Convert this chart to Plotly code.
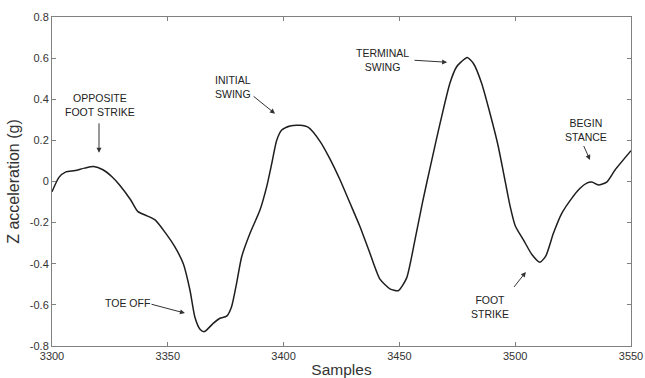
import plotly.graph_objects as go

# Data
samples = [3300, 3303, 3306, 3310, 3314, 3318, 3322, 3326, 3329, 3334, 3337, 3341,
           3344.5, 3349, 3353, 3356.7, 3359.6, 3361.7, 3364, 3365.8, 3369.6, 3372.5,
           3375.4, 3377.5, 3379.7, 3381.9, 3385.5, 3389.8, 3392.7, 3394.9, 3397, 3399.2,
           3402.8, 3407, 3410.7, 3415.8, 3420, 3424.4, 3428.7, 3433, 3437.3, 3441.6,
           3445.9, 3449.5, 3453.1, 3456.7, 3460, 3463.5, 3467.5, 3471.8, 3474.7, 3476.8,
           3479.3, 3481.9, 3485.5, 3489.1, 3492.5, 3495, 3497.8, 3500, 3503.6, 3507.2,
           3510.7, 3513.3, 3516.5, 3520.1, 3524.4, 3528, 3530.9, 3533.1, 3535.9, 3539.5,
           3543.1, 3550]
z_accel = [-0.05, 0.02, 0.047, 0.053, 0.065, 0.073, 0.057, 0.022, -0.015, -0.09, -0.145, -0.167,
           -0.187, -0.25, -0.317, -0.40, -0.53, -0.66, -0.72, -0.73, -0.69, -0.665,
           -0.655, -0.61, -0.495, -0.366, -0.252, -0.139, -0.025, 0.088, 0.20, 0.25,
           0.27, 0.273, 0.263, 0.194, 0.11, 0.007, -0.106, -0.22, -0.35, -0.475,
           -0.522, -0.531, -0.47, -0.285, -0.10, 0.08, 0.28, 0.478, 0.558, 0.583,
           0.603, 0.575, 0.478, 0.332, 0.18, 0.04, -0.12, -0.215, -0.285, -0.355,
           -0.393, -0.36, -0.252, -0.155, -0.082, -0.033, -0.008, -0.003, -0.017, -0.003,
           0.056, 0.15]

x_ticks = [3300, 3350, 3400, 3450, 3500, 3550]
y_ticks = [0.8, 0.6, 0.4, 0.2, 0, -0.2, -0.4, -0.6, -0.8]
y_ticktext = ["0.8", "0.6", "0.4", "0.2", "0", "-0.2", "-0.4", "-0.6", "-0.8"]

# Event labels: text, text position (x, y), arrow tail (x, y), arrow head (x, y)
labels = ["OPPOSITE<br>FOOT STRIKE", "TOE OFF", "INITIAL<br>SWING", "TERMINAL<br>SWING",
          "FOOT<br>STRIKE", "BEGIN<br>STANCE"]
label_x = [3320.7, 3332.5, 3378.2, 3442.9, 3489.1, 3530.4]
label_y = [0.37, -0.59, 0.46, 0.59, -0.61, 0.25]
tail_x = [3320.3, 3342.3, 3386.4, 3455.9, 3499.0, 3529.3]
tail_y = [0.29, -0.595, 0.42, 0.59, -0.52, 0.18]
head_x = [3320.3, 3357.4, 3396.3, 3470.6, 3504.6, 3532.3]
head_y = [0.14, -0.64, 0.33, 0.58, -0.44, 0.105]

fig = go.Figure()
fig.add_trace(go.Scatter(x=samples, y=z_accel, mode="lines",
                         line=dict(color="#1e1e1e", width=1.5, shape="spline", smoothing=0.6),
                         showlegend=False))

font_ann = dict(family="Liberation Sans, Arial, sans-serif", size=10.5, color="#222222")
for t, lx, ly in zip(labels, label_x, label_y):
    fig.add_annotation(x=lx, y=ly, text=t, showarrow=False, font=font_ann, align="center")
for tx, ty, hx, hy in zip(tail_x, tail_y, head_x, head_y):
    fig.add_annotation(x=hx, y=hy, ax=tx, ay=ty, axref="x", ayref="y", text="",
                       showarrow=True, arrowhead=2, arrowsize=1, arrowwidth=1,
                       arrowcolor="#333333")

axis_font = dict(family="Liberation Sans, Arial, sans-serif", size=11, color="#333333")
fig.update_layout(
    width=645, height=378,
    margin=dict(l=52, r=14, t=17, b=32),
    paper_bgcolor="white", plot_bgcolor="white",
    xaxis=dict(range=[3300, 3550], tickvals=x_ticks, ticks="inside", ticklen=4,
               showline=True, linecolor="#808080", linewidth=1, mirror="ticks",
               tickcolor="#808080", showgrid=False, zeroline=False, tickfont=axis_font,
               automargin=False,
               title=dict(text="Samples", standoff=2,
                          font=dict(family="Liberation Sans, Arial, sans-serif", size=15.5, color="#333333"))),
    yaxis=dict(range=[-0.8, 0.8], tickvals=y_ticks, ticktext=y_ticktext, ticks="inside", ticklen=4,
               showline=True, linecolor="#808080", linewidth=1, mirror="ticks",
               tickcolor="#808080", showgrid=False, zeroline=False, tickfont=axis_font,
               automargin=False,
               title=dict(text="Z acceleration (g)", standoff=6,
                          font=dict(family="Liberation Sans, Arial, sans-serif", size=16, color="#333333"))),
)

fig.write_html("out.html")
